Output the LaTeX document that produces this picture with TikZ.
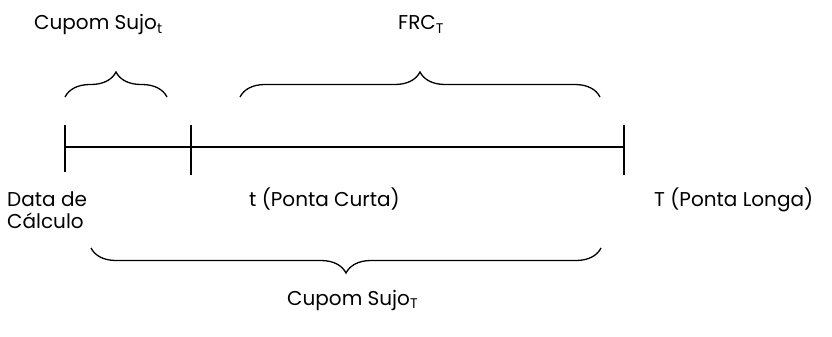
\documentclass[tikz,border=0pt]{standalone}
\usepackage{fontspec}
\setmainfont{Poppins}
\usetikzlibrary{decorations.pathreplacing}
\begin{document}
\begin{tikzpicture}[x=1pt,y=1pt,
  lbl/.style={inner sep=0pt,font=\fontsize{20}{23}\selectfont},
  tl/.style={line width=1.3pt},
  brc/.style={line width=1.3pt,decorate,decoration={brace,amplitude=25pt,aspect=0.5}}]
\useasboundingbox (0,0) rectangle (832,-337);
% timeline
\coordinate (d) at (65,-147);
\coordinate (t) at (191,-147);
\coordinate (T) at (624,-147);
\draw[tl] (d) -- (T);
\draw[tl] ([yshift=22pt]d) -- ([yshift=-25pt]d);
\draw[tl] ([yshift=22pt]t) -- ([yshift=-28pt]t);
\draw[tl] ([yshift=22pt]T) -- ([yshift=-28pt]T);
% braces
\coordinate (b1a) at (65,-97);
\coordinate (b1b) at (167,-97);
\coordinate (b2a) at (240,-97);
\coordinate (b2b) at (600,-97);
\coordinate (b3a) at (91,-248);
\coordinate (b3b) at (601,-248);
\draw[brc] (b1a) -- (b1b);
\draw[brc] (b2a) -- (b2b);
\draw[brc] (b3b) -- (b3a);
% labels
\node[lbl,anchor=base west] (l1) at (34,-30) {Cupom Sujo\textsubscript{t}};
\node[lbl,anchor=base west] (l2) at (398,-30) {FRC\textsubscript{T}};
\node[lbl,anchor=base west] (l3) at (7,-206) {Data de};
\node[lbl,anchor=base west] (l4) at (7,-228) {Cálculo};
\node[lbl,anchor=base west] (l5) at (249,-206) {t (Ponta Curta)};
\node[lbl,anchor=base west] (l6) at (654,-206) {T (Ponta Longa)};
\node[lbl,anchor=base west] (l7) at (287,-305) {Cupom Sujo\textsubscript{T}};
\end{tikzpicture}
\end{document}
